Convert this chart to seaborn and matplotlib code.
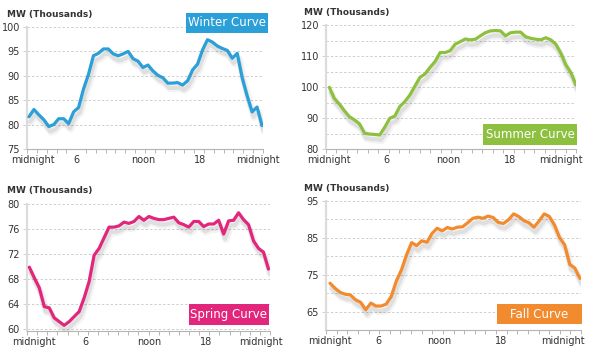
import numpy as np
import pandas as pd
import matplotlib
matplotlib.use("Agg")
import matplotlib.pyplot as plt
import matplotlib.patheffects as pe
from matplotlib.patches import Rectangle
import seaborn as sns

# ---------------- data ----------------
winter = [81.6, 83.1, 82.0, 81.0, 79.6, 80.0, 81.2, 81.2, 80.2, 82.6, 83.5, 87.3,
          90.3, 94.1, 94.6, 95.5, 95.5, 94.5, 94.1, 94.5, 95.0, 93.5, 93.0, 91.7,
          92.2, 91.0, 90.1, 89.6, 88.5, 88.5, 88.6, 88.1, 89.0, 91.2, 92.4, 95.3,
          97.4, 96.9, 96.1, 95.6, 95.2, 93.6, 94.6, 89.6, 85.9, 82.6, 83.6, 79.8]
summer = [99.9, 96.3, 94.5, 92.3, 90.4, 89.4, 88.1, 85.1, 84.8, 84.7, 84.5, 87.0,
          89.9, 90.6, 93.7, 95.3, 97.4, 100.3, 103.1, 104.2, 106.3, 108.2, 111.1, 111.1,
          111.7, 113.8, 114.6, 115.5, 115.2, 115.4, 116.5, 117.5, 118.1, 118.2, 118.1, 116.5,
          117.5, 117.7, 117.7, 116.2, 115.7, 115.4, 115.2, 115.9, 115.2, 113.8, 110.9, 107.1,
          104.6, 100.6]
spring = [69.9, 68.2, 66.6, 63.6, 63.4, 61.8, 61.2, 60.6, 61.2, 62.0, 62.8, 65.0,
          67.6, 71.8, 72.9, 74.6, 76.3, 76.3, 76.5, 77.1, 76.9, 77.2, 78.0, 77.4,
          78.0, 77.7, 77.5, 77.5, 77.7, 77.9, 77.0, 76.7, 76.3, 77.2, 77.2, 76.4,
          76.8, 76.8, 77.4, 75.2, 77.3, 77.4, 78.6, 77.5, 76.7, 74.1, 72.9, 72.3, 69.6]
fall = [72.7, 71.3, 70.2, 69.7, 69.5, 68.2, 67.5, 65.5, 67.3, 66.5, 66.5, 67.0,
        69.1, 73.3, 76.3, 80.4, 83.7, 82.9, 84.2, 83.8, 86.2, 87.6, 86.9, 87.8,
        87.4, 87.9, 88.0, 89.1, 90.3, 90.6, 90.3, 90.9, 90.5, 89.2, 88.9, 89.9,
        91.5, 90.8, 89.7, 89.1, 87.9, 89.6, 91.5, 90.8, 88.5, 85.1, 83.1, 77.8,
        76.8, 74.0]

tick_labels = ["midnight", "6", "noon", "18", "midnight"]
y_label = "MW (Thousands)"

panels = [
    dict(name="Winter Curve", values=winter, color="#2A9FD8",
         rect=[27, 27, 263, 149], ylim=(75, 100), yticks=[75, 80, 85, 90, 95, 100],
         grid=[75, 80, 85, 90, 95, 100], span=(0.2, 23.9),
         labpos=[0.6, 5.0, 11.8, 17.6, 23.5],
         box=[186, 13, 268, 33], title=(7, 14)),
    dict(name="Summer Curve", values=summer, color="#8DC03F",
         rect=[326, 25, 576, 149], ylim=(80, 120), yticks=[80, 90, 100, 110, 120],
         grid=[80, 85, 90, 95, 100, 105, 110, 115, 120], span=(0.32, 24.0),
         labpos=[0.3, 5.8, 11.7, 17.7, 22.6],
         box=[483, 124, 577, 145], title=(304, 12)),
    dict(name="Spring Curve", values=spring, color="#E2267C",
         rect=[27, 204, 270, 331], ylim=(59.7, 80), yticks=[60, 64, 68, 72, 76, 80],
         grid=[60, 64, 68, 72, 76, 80], span=(0.23, 23.85),
         labpos=[0.7, 5.8, 12.1, 17.7, 23.1],
         box=[189, 304, 269, 325], title=(7, 191)),
    dict(name="Fall Curve", values=fall, color="#F28A2E",
         rect=[326, 201, 581, 330], ylim=(60, 95), yticks=[65, 75, 85, 95],
         grid=[65, 70, 75, 80, 85, 90, 95], span=(0.38, 23.9),
         labpos=[0.35, 4.9, 10.7, 16.5, 22.3],
         box=[497, 304, 582, 324], title=(304, 189)),
]

# ---------------- figure ----------------
sns.set_theme(style="white")
plt.rcParams["font.family"] = ["DejaVu Sans"]
W, H = 592, 349
fig = plt.figure(figsize=(W / 100, H / 100), dpi=100)
fig.patch.set_facecolor("white")

text_color = "#333333"

for p in panels:
    x0, y0, x1, y1 = p["rect"]
    ax = fig.add_axes([x0 / W, 1 - y1 / H, (x1 - x0) / W, (y1 - y0) / H])
    n = len(p["values"])
    df = pd.DataFrame({"hour": np.linspace(p["span"][0], p["span"][1], n),
                       "mw": p["values"]})
    for g in p["grid"]:
        ax.axhline(g, color="#cfcfcf", lw=0.7, ls=(0, (2.5, 2)), zorder=0)
    sns.lineplot(data=df, x="hour", y="mw", ax=ax, color=p["color"], lw=2.3,
                 zorder=3,
                 path_effects=[
                     pe.SimpleLineShadow(offset=(1.5, -4), shadow_color="k",
                                         alpha=0.05, linewidth=5),
                     pe.SimpleLineShadow(offset=(1.0, -3.5), shadow_color="k",
                                         alpha=0.09, linewidth=3),
                     pe.Normal()])
    ax.set_xlim(0, 24)
    ax.set_ylim(*p["ylim"])
    ax.set_xlabel("")
    ax.set_ylabel("")
    ax.set_yticks(p["yticks"])
    ax.set_yticklabels([str(v) for v in p["yticks"]])
    ax.set_xticks(p["labpos"])
    ax.set_xticklabels(tick_labels)
    ax.set_xticks(np.arange(0, 25, 1), minor=True)
    ax.tick_params(axis="x", which="major", length=0, pad=4, labelsize=7,
                   labelcolor=text_color)
    ax.tick_params(axis="x", which="minor", length=3, width=0.7, color="#b5b5b5",
                   direction="out", bottom=True)
    ax.tick_params(axis="y", length=3, width=0.7, color="#cfcfcf", pad=2,
                   labelsize=7, labelcolor=text_color, left=True)
    for s in ["top", "right"]:
        ax.spines[s].set_visible(False)
    ax.spines["left"].set_color("#dcdcdc")
    ax.spines["left"].set_linewidth(1.6)
    ax.spines["bottom"].set_color("#b5b5b5")
    ax.spines["bottom"].set_linewidth(0.8)
    ax.set_facecolor("none")

    # label box
    bx0, by0, bx1, by1 = p["box"]
    fig.patches.append(Rectangle((bx0 / W, 1 - by1 / H), (bx1 - bx0) / W,
                                 (by1 - by0) / H, transform=fig.transFigure,
                                 facecolor=p["color"], edgecolor="none", zorder=5))
    fig.text((bx0 + bx1) / 2 / W, 1 - (by0 + by1) / 2 / H, p["name"],
             color="white", fontsize=8.5, ha="center", va="center", zorder=6)
    # unit title
    tx, ty = p["title"]
    fig.text(tx / W, 1 - ty / H, y_label, color=text_color, fontsize=6.5,
             fontweight="bold", ha="left", va="center")

fig.savefig("out.png", dpi=100, facecolor="white")
